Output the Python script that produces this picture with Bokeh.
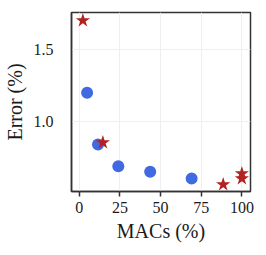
from bokeh.plotting import figure
from bokeh.models import FixedTicker, Range1d, PrintfTickFormatter
from bokeh.embed import file_html
from bokeh.resources import INLINE

# Data
circle_macs = [4.8, 11.5, 24.0, 43.6, 69.1]
circle_err = [1.20, 0.837, 0.685, 0.646, 0.599]
star_macs = [2.2, 14.5, 88.5, 100.0, 100.0]
star_err = [1.705, 0.851, 0.557, 0.634, 0.599]
x_ticks = [0, 25, 50, 75, 100]
y_ticks = [0.5, 1.0, 1.5]

FONT = "Liberation Serif"

p = figure(width=266, height=255, output_backend="svg", toolbar_location=None,
           x_range=Range1d(-4.8, 105.3), y_range=Range1d(0.508, 1.761),
           min_border_left=68, min_border_top=12, min_border_right=16, min_border_bottom=64)

p.scatter(circle_macs, circle_err, marker="circle", size=12, color="#4169E1", line_color=None)
p.scatter(star_macs, star_err, marker="star", size=15, color="#B22222", line_color=None)

xa = p.xaxis[0]
ya = p.yaxis[0]
xa.ticker = FixedTicker(ticks=x_ticks)
ya.ticker = FixedTicker(ticks=y_ticks)
ya.formatter = PrintfTickFormatter(format="%.1f")
xa.axis_label = "MACs (%)"
ya.axis_label = "Error (%)"
for ax in (xa, ya):
    ax.axis_label_text_font = FONT
    ax.axis_label_text_font_style = "normal"
    ax.axis_label_text_font_size = "20px"
    ax.axis_label_text_color = "#1a1a1a"
    ax.major_label_text_font = FONT
    ax.major_label_text_font_size = "16px"
    ax.major_label_text_color = "#1a1a1a"
    ax.minor_tick_line_color = None
    ax.axis_line_color = "#333333"
    ax.axis_line_width = 1.5
xa.major_tick_out = 5
xa.major_tick_in = 0
xa.major_tick_line_color = "#333333"
xa.major_tick_line_width = 1.5
xa.major_label_standoff = 5
xa.axis_label_standoff = 4
ya.major_tick_line_color = None
ya.major_label_standoff = 12
ya.axis_label_standoff = 5

p.grid.grid_line_color = "#efefef"
p.outline_line_color = "#333333"
p.outline_line_width = 1.5
p.background_fill_color = "white"
p.border_fill_color = "white"

open("out.html", "w").write(file_html(p, INLINE))
